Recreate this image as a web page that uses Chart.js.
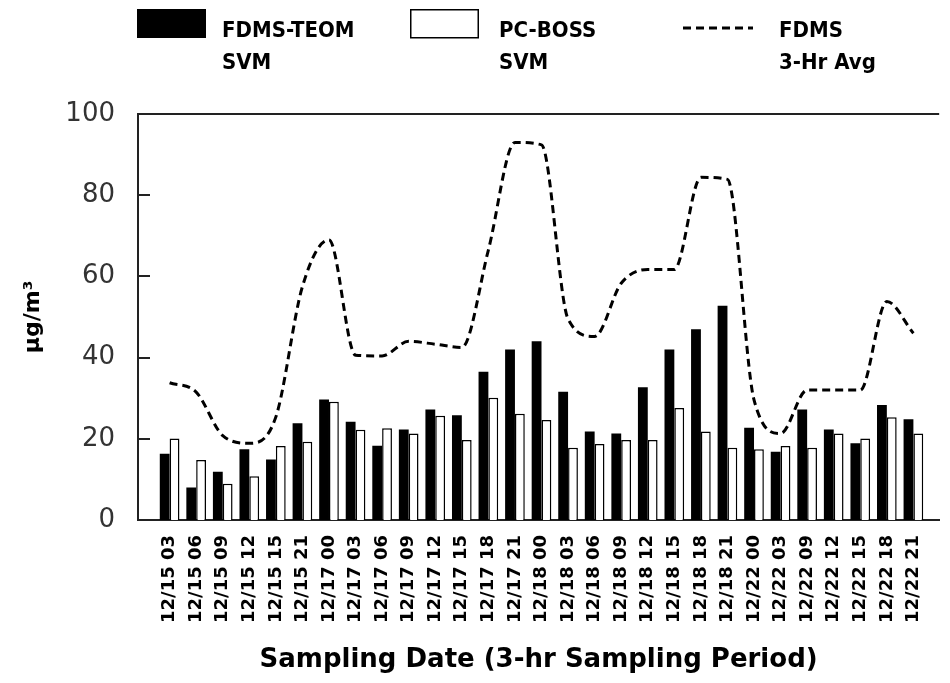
<!DOCTYPE html>
<html lang="en">
  <head>
    <meta charset="utf-8" />
    <title>FDMS-TEOM vs PC-BOSS SVM</title>
    <style>
      * {
        margin: 0;
        padding: 0;
      }
      body {
        background: white;
      }
    </style>
  </head>
  <body>
    <canvas id="myChart" width="950" height="683"></canvas>
    <script src="https://cdn.jsdelivr.net/npm/chart.js"></script>
    <script>
      // sampling periods (date + start hour)
      const labels = [
        "12/15 03", "12/15 06", "12/15 09", "12/15 12", "12/15 15", "12/15 21",
        "12/17 00", "12/17 03", "12/17 06", "12/17 09", "12/17 12", "12/17 15",
        "12/17 18", "12/17 21", "12/18 00", "12/18 03", "12/18 06", "12/18 09",
        "12/18 12", "12/18 15", "12/18 18", "12/18 21", "12/22 00", "12/22 03",
        "12/22 09", "12/22 12", "12/22 15", "12/22 18", "12/22 21",
      ];
      // FDMS-TEOM SVM (black bars)
      const teomSvm = [
        16.3, 8.0, 11.9, 17.4, 14.9, 23.8, 29.7, 24.2, 18.3, 22.3, 27.2, 25.8,
        36.5, 42.0, 44.0, 31.6, 21.8, 21.3, 32.7, 42.0, 47.0, 52.8, 22.7, 16.8,
        27.2, 22.3, 18.9, 28.3, 24.8,
      ];
      // PC-BOSS SVM (white bars)
      const bossSvm = [
        20.1, 14.8, 8.9, 10.8, 18.2, 19.3, 29.1, 22.2, 22.6, 21.3, 25.7, 19.7,
        30.1, 26.2, 24.6, 17.8, 18.7, 19.7, 19.7, 27.6, 21.8, 17.8, 17.4, 18.2,
        17.8, 21.3, 20.1, 25.3, 21.3,
      ];
      // FDMS 3-hr average (dashed line)
      const fdmsAvg = [
        33.8, 31.5, 20.8, 18.9, 25.4, 57.5, 69.0, 40.6, 40.4, 44.0, 43.3, 42.5,
        66.5, 93.0, 92.4, 49.5, 45.2, 58.3, 61.7, 61.7, 84.4, 83.9, 29.6, 21.3,
        32.0, 32.0, 32.0, 53.8, 46.0,
      ];
      const yTicks = [0, 20, 40, 60, 80, 100];
      const legendNames = [
        ["FDMS-TEOM", "SVM"],
        ["PC-BOSS", "SVM"],
        ["FDMS", "3-Hr Avg"],
      ];

      const toXY = (arr) => arr.map((v, i) => ({ x: i, y: v }));

      // inward y ticks + top frame line
      const frame = {
        id: "frame",
        beforeDatasetsDraw(chart) {
          const { ctx, chartArea } = chart;
          const y = chart.scales.y;
          ctx.save();
          ctx.strokeStyle = "#222";
          ctx.lineWidth = 2;
          ctx.beginPath();
          yTicks.forEach((t) => {
            const py = Math.round(y.getPixelForValue(t));
            ctx.moveTo(chartArea.left, py);
            ctx.lineTo(chartArea.left + 12, py);
          });
          ctx.moveTo(chartArea.left, chartArea.top);
          ctx.lineTo(chartArea.right, chartArea.top);
          ctx.stroke();
          ctx.restore();
        },
        afterDraw(chart) {
          const ctx = chart.ctx;
          ctx.save();
          // legend symbols
          ctx.fillStyle = "#000";
          ctx.fillRect(137, 9, 69, 29);
          ctx.strokeStyle = "#000";
          ctx.lineWidth = 1.5;
          ctx.strokeRect(410.75, 9.75, 67.5, 28);
          ctx.lineWidth = 3;
          ctx.setLineDash([8, 5]);
          ctx.beginPath();
          ctx.moveTo(683, 28);
          ctx.lineTo(753, 28);
          ctx.stroke();
          ctx.setLineDash([]);
          // legend text
          ctx.font = "bold 22px 'DejaVu Sans Condensed', 'DejaVu Sans', sans-serif";
          ctx.textBaseline = "alphabetic";
          const xs = [222, 499, 779];
          legendNames.forEach((lines, i) => {
            ctx.fillText(lines[0], xs[i], 37);
            ctx.fillText(lines[1], xs[i], 69);
          });
          ctx.restore();
        },
      };

      const data = {
        datasets: [
          {
            type: "line",
            label: "FDMS 3-Hr Avg",
            data: toXY(fdmsAvg),
            borderColor: "#000",
            borderWidth: 3,
            borderDash: [8, 5],
            pointRadius: 0,
            cubicInterpolationMode: "monotone",
            fill: false,
            order: 0,
          },
          {
            label: "FDMS-TEOM SVM",
            data: toXY(teomSvm),
            backgroundColor: "#000",
            borderWidth: 0,
            categoryPercentage: 0.74,
            barPercentage: 1.0,
            order: 1,
          },
          {
            label: "PC-BOSS SVM",
            data: toXY(bossSvm),
            backgroundColor: "#fff",
            borderColor: "#000",
            borderWidth: 1.5,
            categoryPercentage: 0.74,
            barPercentage: 1.0,
            order: 1,
          },
        ],
      };

      const config = {
        type: "bar",
        data,
        options: {
          responsive: false,
          animation: false,
          layout: { padding: { top: 114, right: 0, left: 0, bottom: 0 } },
          plugins: {
            legend: { display: false },
            tooltip: { enabled: false },
          },
          scales: {
            x: {
              type: "linear",
              offset: false,
              min: -1.19,
              max: 28.97,
              afterFit: (s) => {
                s.height = 163;
              },
              afterBuildTicks: (s) => {
                s.ticks = labels.map((_, i) => ({ value: i }));
              },
              grid: { display: false, drawTicks: false },
              border: { display: true, color: "#222", width: 2 },
              ticks: {
                autoSkip: false,
                minRotation: 90,
                maxRotation: 90,
                padding: 15,
                color: "#000",
                font: { family: "'DejaVu Sans', sans-serif", size: 18, weight: "bold" },
                callback: (v) => labels[v] ?? "",
              },
              title: {
                display: true,
                text: "Sampling Date (3-hr Sampling Period)",
                color: "#000",
                padding: { top: 0, bottom: 7 },
                font: { family: "'DejaVu Sans', sans-serif", size: 26, weight: "bold" },
              },
            },
            y: {
              min: 0,
              max: 100,
              afterFit: (s) => {
                s.width = 138;
              },
              afterBuildTicks: (s) => {
                s.ticks = yTicks.map((v) => ({ value: v }));
              },
              grid: { display: false, drawTicks: false },
              border: { display: true, color: "#222", width: 2 },
              ticks: {
                padding: 23,
                color: "#333",
                font: { family: "'DejaVu Sans', sans-serif", size: 26 },
              },
              title: {
                display: true,
                text: "µg/m³",
                color: "#000",
                padding: { top: 20, bottom: 0 },
                font: { family: "'DejaVu Sans', sans-serif", size: 22, weight: "bold" },
              },
            },
          },
        },
        plugins: [frame],
      };

      const myChart = new Chart(document.getElementById("myChart"), config);
    </script>
  </body>
</html>
